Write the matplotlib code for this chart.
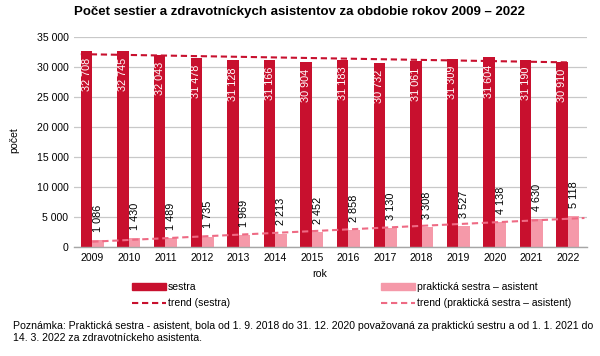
import matplotlib
matplotlib.use("Agg")
import matplotlib.pyplot as plt
from matplotlib.lines import Line2D
from matplotlib.patches import Patch
import numpy as np

plt.rcParams['font.family'] = ['Liberation Sans', 'DejaVu Sans']

years = ['2009', '2010', '2011', '2012', '2013', '2014', '2015',
         '2016', '2017', '2018', '2019', '2020', '2021', '2022']
sestra = [32708, 32745, 32043, 31478, 31128, 31166, 30904,
          31183, 30732, 31061, 31309, 31604, 31190, 30910]
asistent = [1086, 1430, 1489, 1735, 1969, 2213, 2452,
            2858, 3130, 3308, 3527, 4138, 4630, 5118]
yticks = [0, 5000, 10000, 15000, 20000, 25000, 30000, 35000]

colorR = '#C8102E'
colorP = '#F599A9'
colorPT = '#EE6A84'


def fmt(v):
    return f'{v:,}'.replace(',', ' ')


fig = plt.figure(figsize=(6.0, 3.56), dpi=100)
ax = fig.add_axes([74 / 600, 1 - 247 / 356, 513 / 600, 210 / 356])

x = np.arange(len(years))
w = 0.314
b1 = ax.bar(x - w / 2, sestra, w, color=colorR, zorder=3)
b2 = ax.bar(x + w / 2, asistent, w, color=colorP, zorder=3)

# trend lines (linear fit, like excel)
k1 = np.polyfit(x, sestra, 1)
x1 = np.array([x[0] - w, x[-1]])
ax.plot(x1, np.polyval(k1, x1), color=colorR, ls=(0, (3, 1.8)), lw=1.5, zorder=4)
k2 = np.polyfit(x, asistent, 1)
x2 = np.array([x[0], x[-1] + 0.45])
ax.plot(x2, np.polyval(k2, x2), color=colorPT, ls=(0, (3, 1.8)), lw=1.5, zorder=4)

for i in range(len(years)):
    ax.annotate(fmt(sestra[i]), (x[i] - w / 2, sestra[i]), xytext=(0, -5),
                textcoords='offset points', rotation=90, ha='center', va='top',
                color='white', fontsize=7.8, zorder=5)
    ax.annotate(fmt(asistent[i]), (x[i] + w / 2, asistent[i]), xytext=(0, 6),
                textcoords='offset points', rotation=90, ha='center', va='bottom',
                color='black', fontsize=7.8, zorder=5)

ax.set_xlim(-0.5, 13.52)
ax.set_ylim(0, 35000)
ax.set_yticks(yticks)
ax.set_yticklabels([fmt(v) for v in yticks])
ax.set_xticks(x)
ax.set_xticklabels(years)
ax.tick_params(length=0, labelsize=7.6, pad=4)
ax.grid(axis='y', color='#C8C8C8', lw=0.9, zorder=0)
for s in ['top', 'right', 'left']:
    ax.spines[s].set_visible(False)
ax.spines['bottom'].set_color('#A6A6A6')
ax.spines['bottom'].set_linewidth(1.0)
ax.spines['bottom'].set_zorder(4)

fig.text(320 / 600, 1 - 274 / 356, 'rok', ha='center', va='center', fontsize=7.6)
fig.text(14 / 600, 1 - 140 / 356, 'počet', rotation=90, ha='center', va='center', fontsize=7.6)
fig.text(299 / 600, 1 - 12 / 356, 'Počet sestier a zdravotníckych asistentov za obdobie rokov 2009 – 2022',
         ha='center', va='center', fontsize=9.5, fontweight='bold')

h1 = [Patch(color=colorR), Line2D([], [], color=colorR, ls=(0, (3, 1.8)), lw=1.5)]
h2 = [Patch(color=colorP), Line2D([], [], color=colorPT, ls=(0, (3, 1.8)), lw=1.5)]
kw = dict(frameon=False, fontsize=7.5, handlelength=3.2, handleheight=0.6,
          handletextpad=0.25, labelspacing=0.6, borderpad=0, loc='upper left')
fig.legend(h1, ['sestra', 'trend (sestra)'], bbox_to_anchor=(127 / 600, 1 - 277 / 356), **kw)
fig.legend(h2, ['praktická sestra – asistent', 'trend (praktická sestra – asistent)'],
           bbox_to_anchor=(376 / 600, 1 - 277 / 356), **kw)

fig.text(13 / 600, 1 - 321 / 356,
         'Poznámka: Praktická sestra - asistent, bola od 1. 9. 2018 do 31. 12. 2020 považovaná za praktickú sestru a od 1. 1. 2021 do\n'
         '14. 3. 2022 za zdravotníckeho asistenta.',
         ha='left', va='top', fontsize=7.6, linespacing=1.3)

fig.savefig('out.png', dpi=100)
